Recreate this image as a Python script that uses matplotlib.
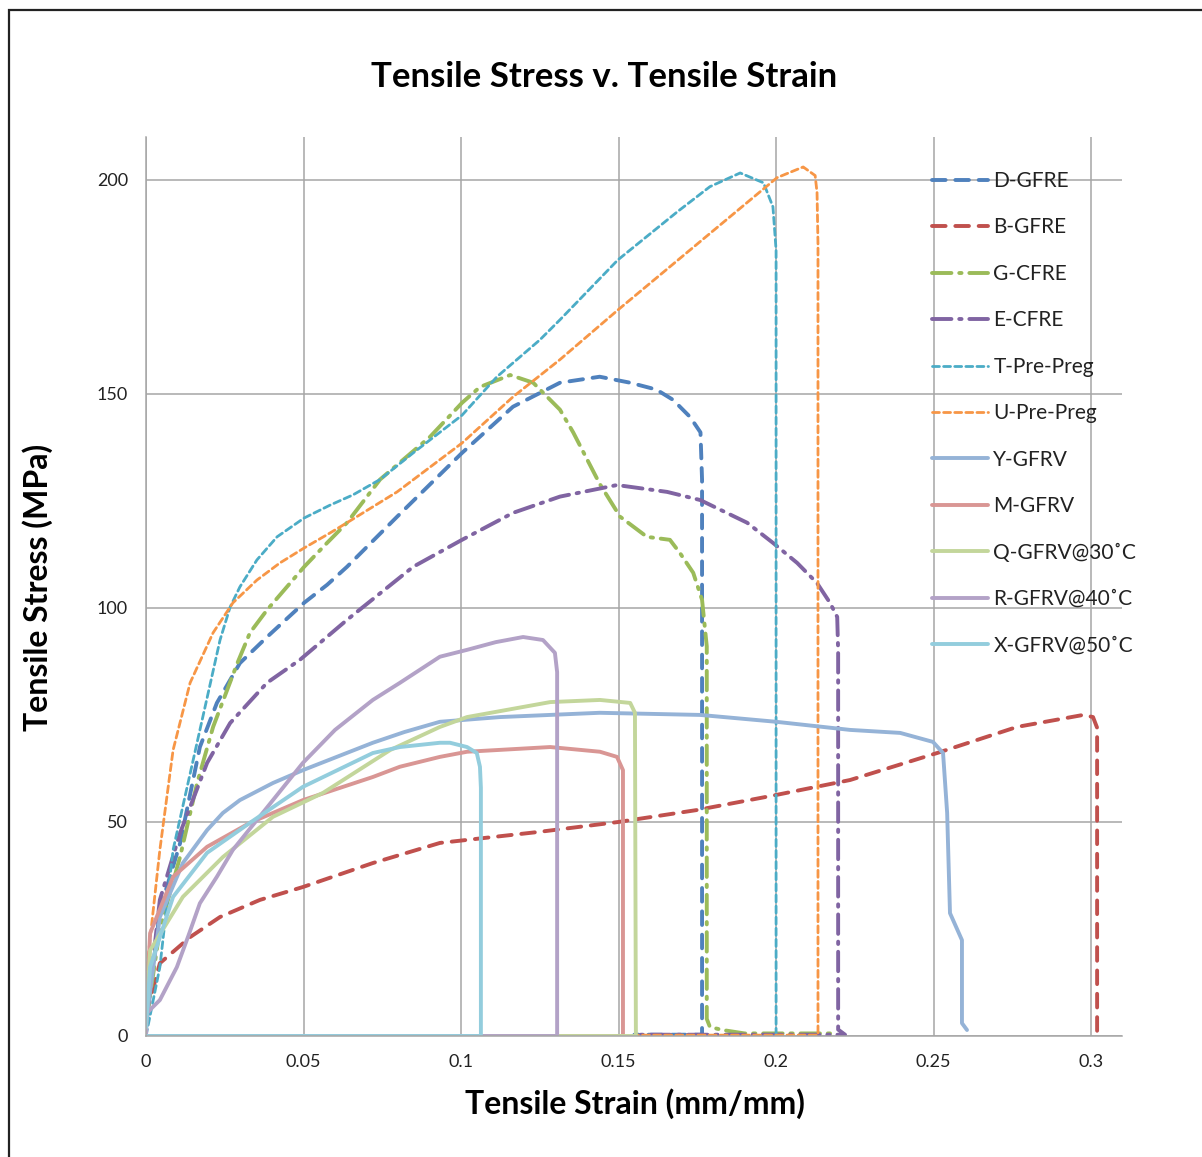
import matplotlib
matplotlib.use('Agg')
import matplotlib.pyplot as plt
from matplotlib.patches import Rectangle

plt.rcParams['font.family'] = ['Lato', 'DejaVu Sans']

# values (strain mm/mm, stress MPa)
d_gfre_x = [0, 0.0044, 0.0108, 0.0171, 0.0225, 0.0298, 0.0384, 0.0502, 0.0575, 0.0638, 0.0797, 0.1003,
            0.1165, 0.1314, 0.144, 0.1537, 0.162, 0.1673, 0.1727, 0.176, 0.1765, 0.1765, 0.155]
d_gfre_y = [2, 29.4, 45, 67.5, 77.8, 87.1, 93.2, 101.2, 105.4, 109.6, 121.3, 136.2,
            147, 152.6, 154, 152.6, 151, 148.6, 144.6, 141, 130, 0.3, 0.3]

b_gfre_x = [0, 0.0044, 0.014, 0.0235, 0.0362, 0.0498, 0.072, 0.0933, 0.125, 0.15, 0.175, 0.2,
            0.2235, 0.2511, 0.2765, 0.2975, 0.3006, 0.3019, 0.3019]
b_gfre_y = [5, 17, 23.1, 27.8, 31.8, 34.8, 40.4, 45.1, 47.7, 50, 52.8, 56.3,
            59.8, 66.1, 72.2, 75, 74.5, 72, 0]

g_cfre_x = [0, 0.0044, 0.0108, 0.0162, 0.0213, 0.029, 0.033, 0.0384, 0.0502, 0.0575, 0.0638, 0.0743,
            0.0902, 0.1003, 0.106, 0.1156, 0.1229, 0.1314, 0.1356, 0.144, 0.1505, 0.159, 0.1663,
            0.1695, 0.1737, 0.1765, 0.178, 0.178, 0.179, 0.183, 0.19, 0.218]
g_cfre_y = [3, 25, 41.8, 59, 72.2, 87.1, 94.2, 99.5, 109.6, 115.2, 119.9, 130,
            140, 147.9, 151.6, 154.4, 152.6, 146.3, 141, 129, 121.3, 116.6, 115.9,
            112.8, 108.2, 101.9, 91, 4, 2.1, 1.4, 0.6, 0.6]

e_cfre_x = [0, 0.0044, 0.0108, 0.0194, 0.0267, 0.0384, 0.0489, 0.0638, 0.0848, 0.1003, 0.1165, 0.1314,
            0.1495, 0.1654, 0.1759, 0.1908, 0.199, 0.2067, 0.213, 0.2171, 0.2194, 0.2197, 0.2197,
            0.2219, 0.155]
e_cfre_y = [3, 31.8, 47.4, 63.8, 73.1, 82.5, 87.9, 97.2, 109.6, 115.9, 122.2, 126,
            128.7, 127.1, 125.2, 119.9, 115.2, 110.5, 105.8, 101.2, 97.9, 90, 1.5,
            0.3, 0.3]

t_prepreg_x = [0, 0.0044, 0.0086, 0.0162, 0.0235, 0.0267, 0.0298, 0.0352, 0.0416, 0.0502, 0.0584, 0.0657,
               0.0743, 0.0848, 0.1003, 0.1114, 0.125, 0.1314, 0.1498, 0.1686, 0.179, 0.1886, 0.196,
               0.199, 0.2, 0.2]
t_prepreg_y = [0, 16.1, 43.5, 68.5, 92.5, 100.2, 104.9, 111.2, 116.6, 121, 124, 126.4,
               130, 136.2, 145, 154, 162.6, 167.3, 181.3, 192.5, 198.4, 201.6, 199.3,
               193.7, 183.6, 0]

u_prepreg_x = [0, 0.0003, 0.0044, 0.0086, 0.014, 0.0213, 0.0276, 0.0352, 0.0425, 0.0502, 0.0584, 0.0638,
               0.0797, 0.1003, 0.1165, 0.1314, 0.1498, 0.2003, 0.2086, 0.2124, 0.213, 0.2133, 0.2133,
               0.155]
u_prepreg_y = [0, 16, 43.5, 66.8, 82.5, 94.2, 101.2, 106.5, 110.5, 114, 117.5, 119.9,
               127.1, 138.5, 149.3, 158, 169.6, 200.5, 203, 201, 197, 185, 0.2,
               0.2]

y_gfrv_x = [0, 0.0044, 0.0117, 0.0194, 0.0244, 0.0298, 0.0403, 0.0498, 0.072, 0.082, 0.0933, 0.1124,
            0.144, 0.1759, 0.2, 0.2235, 0.2394, 0.2498, 0.253, 0.2543, 0.2552, 0.259, 0.259, 0.2606]
y_gfrv_y = [3, 27.8, 40.4, 48.1, 52.1, 55.1, 59.1, 62.1, 68.5, 71, 73.4, 74.5,
            75.5, 75, 73.4, 71.5, 70.8, 68.7, 66.1, 52.1, 28.7, 22.4, 3, 1.4]

m_gfrv_x = [0, 0.0013, 0.0086, 0.0194, 0.033, 0.0498, 0.072, 0.0806, 0.0933, 0.1019, 0.1283, 0.1441,
            0.1495, 0.1514, 0.1514, 0]
m_gfrv_y = [3, 24, 37.2, 44.2, 49.8, 55.1, 60.5, 62.9, 65.2, 66.4, 67.5, 66.4,
            65.2, 62.1, 0, 0]

q_gfrv_x = [0, 0.0013, 0.0117, 0.0244, 0.0403, 0.0562, 0.0775, 0.0933, 0.1019, 0.1283, 0.1441, 0.1537,
            0.1552, 0.1555, 0]
q_gfrv_y = [3, 20, 32.5, 41.8, 51.2, 56.8, 66.8, 72.2, 74.5, 78, 78.5, 77.8,
            75.5, 0, 0]

r_gfrv_x = [0, 0.0003, 0.0044, 0.0098, 0.0135, 0.0171, 0.0225, 0.0276, 0.0403, 0.0498, 0.06, 0.072,
            0.0806, 0.0933, 0.1019, 0.111, 0.1197, 0.126, 0.1298, 0.1305, 0.1305, 0]
r_gfrv_y = [0, 5.4, 8.4, 16.1, 23.5, 31, 37.2, 43.5, 55.1, 63.8, 71.5, 78.5,
            82.5, 88.6, 90.2, 92, 93.2, 92.5, 89.5, 85, 0, 0]

x_gfrv_x = [0, 0.0013, 0.0086, 0.0194, 0.033, 0.0498, 0.072, 0.0806, 0.0933, 0.0965, 0.1019, 0.105,
            0.106, 0.1063, 0.1063, 0]
x_gfrv_y = [2, 16.1, 32.5, 42.8, 49.8, 58.2, 66.1, 67.5, 68.5, 68.5, 67.5, 66.1,
            62.9, 58, 0, 0]

labels = ['D-GFRE', 'B-GFRE', 'G-CFRE', 'E-CFRE', 'T-Pre-Preg', 'U-Pre-Preg',
          'Y-GFRV', 'M-GFRV', 'Q-GFRV@30˚C', 'R-GFRV@40˚C', 'X-GFRV@50˚C']
colors = ['#4F81BD', '#C0504D', '#9BBB59', '#8064A2', '#4BACC6', '#F79646',
          '#95B3D7', '#D99694', '#C3D69B', '#B3A2C7', '#93CDDD']

series = [(d_gfre_x, d_gfre_y), (b_gfre_x, b_gfre_y), (g_cfre_x, g_cfre_y), (e_cfre_x, e_cfre_y),
          (t_prepreg_x, t_prepreg_y), (u_prepreg_x, u_prepreg_y), (y_gfrv_x, y_gfrv_y),
          (m_gfrv_x, m_gfrv_y), (q_gfrv_x, q_gfrv_y), (r_gfrv_x, r_gfrv_y), (x_gfrv_x, x_gfrv_y)]

long_dash = (3.5, 2.5)
dash_dot = (5, 2, 0.6, 2)
short_dash = (2.5, 1.5)
styles = [(2.8, long_dash), (2.8, long_dash), (2.8, dash_dot), (2.8, dash_dot),
          (2.0, short_dash), (2.0, short_dash),
          (2.8, None), (2.8, None), (2.8, None), (2.8, None), (2.8, None)]

grid_col = '#A6A6A6'

fig = plt.figure(figsize=(12.02, 11.57), dpi=100)
ax = fig.add_axes([146 / 1202, 1 - 1036 / 1157, (1122 - 146) / 1202, (1036 - 137) / 1157])

for (xs, ys), lab, col, (lw, dash) in zip(series, labels, colors, styles):
    line, = ax.plot(xs, ys, color=col, lw=lw, label=lab, solid_capstyle='round',
                    dash_capstyle='round', solid_joinstyle='round')
    if dash is not None:
        line.set_dashes(dash)

ax.set_xlim(0, 0.3098)
ax.set_ylim(0, 210)
ax.set_xticks([0, 0.05, 0.1, 0.15, 0.2, 0.25, 0.3])
ax.set_xticklabels(['0', '0.05', '0.1', '0.15', '0.2', '0.25', '0.3'])
ax.set_yticks([0, 50, 100, 150, 200])
ax.tick_params(length=0, labelsize=13, colors='#222222')
ax.tick_params(axis='y', pad=13)
ax.tick_params(axis='x', pad=13)
ax.grid(True, color=grid_col, lw=1.1)
ax.set_axisbelow(True)
for s in ['top', 'right']:
    ax.spines[s].set_visible(False)
for s in ['left', 'bottom']:
    ax.spines[s].set_color(grid_col)
    ax.spines[s].set_linewidth(1.1)

leg = ax.legend(loc='upper left', bbox_to_anchor=(932 / 1202, 1 - 171 / 1157),
                bbox_transform=fig.transFigure, frameon=False, fontsize=15,
                handlelength=2.7, handletextpad=0.25, labelspacing=1.27,
                borderpad=0, borderaxespad=0)
for t in leg.get_texts():
    t.set_color('#222222')

fig.text(0.503, 1 - 77 / 1157, 'Tensile Stress v. Tensile Strain', ha='center', va='center',
         fontsize=25, fontweight='bold')
fig.text(0.528, 1 - 1104 / 1157, 'Tensile Strain (mm/mm)', ha='center', va='center',
         fontsize=23, fontweight='bold')
fig.text(0.031, 1 - 587 / 1157, 'Tensile Stress (MPa)', ha='center', va='center',
         rotation=90, fontsize=23, fontweight='bold')

# outer frame, cut off at right and bottom like the reference
fig.patches.append(Rectangle((9 / 1202, -0.5), 2, 0.5 + 1 - 10 / 1157, fill=False,
                             edgecolor='#222222', lw=1.6, transform=fig.transFigure))

fig.savefig('out.png', dpi=100)
